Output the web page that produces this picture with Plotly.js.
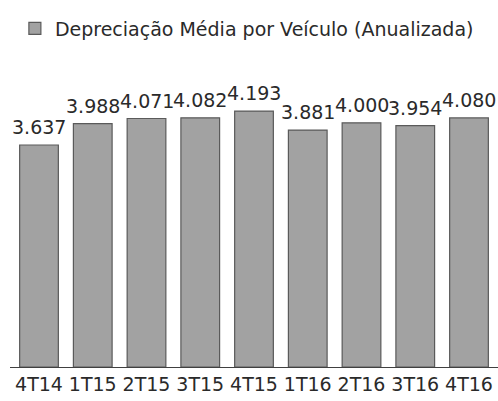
<!DOCTYPE html>
<html>
<head>
<meta charset="utf-8">
<script src="https://cdn.plot.ly/plotly-3.0.1.min.js"></script>
<style>html,body{margin:0;padding:0;background:#fff;}#chart{width:498px;height:401px;}</style>
</head>
<body>
<div id="chart"></div>
<script>
const categories = ["4T14","1T15","2T15","3T15","4T15","1T16","2T16","3T16","4T16"];
const values = [3637, 3988, 4071, 4082, 4193, 3881, 4000, 3954, 4080];
const seriesName = "Depreciação Média por Veículo (Anualizada)";

const fontFamily = "DejaVu Sans, Verdana, sans-serif";

const trace = {
  type: "bar",
  x: categories,
  y: values,
  name: seriesName,
  marker: {color: "#a2a2a2", line: {color: "#5a5a5a", width: 1.2}},
  textposition: "none",
  hoverinfo: "skip",
  showlegend: true
};

const annotations = categories.map((c, i) => ({
  x: c, y: values[i], xref: "x", yref: "y",
  text: values[i].toLocaleString("de-DE"),
  showarrow: false, yanchor: "bottom", yshift: 5,
  font: {family: fontFamily, size: 19, color: "#2a2a2a"}
}));

const layout = {
  width: 498, height: 401,
  margin: {l: 10, r: 0, t: 74, b: 34},
  paper_bgcolor: "#ffffff", plot_bgcolor: "#ffffff",
  separators: ",.",
  bargap: 0.28,
  font: {family: fontFamily, size: 19, color: "#2a2a2a"},
  xaxis: {
    showline: true, linecolor: "#404040", linewidth: 1.2,
    ticks: "", showgrid: false, zeroline: false,
    tickfont: {family: fontFamily, size: 19, color: "#2a2a2a"}
  },
  yaxis: {range: [0, 4800], visible: false, showgrid: false, zeroline: false},
  showlegend: true,
  legend: {
    orientation: "h", x: 0.01, xanchor: "left", y: 1.155, yanchor: "middle",
    font: {family: fontFamily, size: 19, color: "#2a2a2a"},
    itemwidth: 30
  },
  annotations: annotations
};

Plotly.newPlot("chart", [trace], layout, {displayModeBar: false, staticPlot: true});
</script>
</body>
</html>
